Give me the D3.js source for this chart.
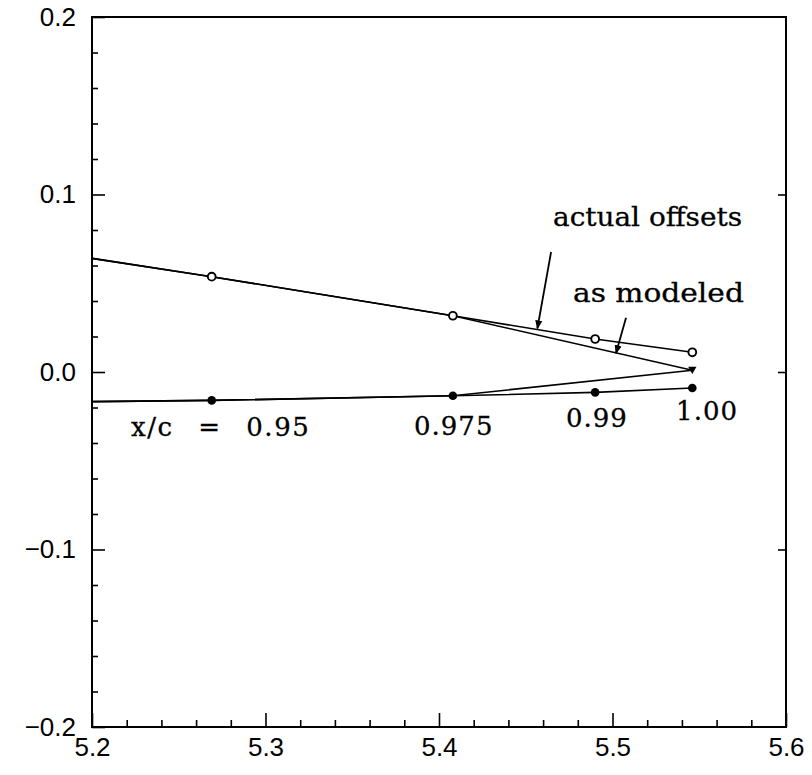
<!DOCTYPE html>
<html>
<head>
<meta charset="utf-8">
<script src="https://cdn.jsdelivr.net/npm/d3@7"></script>
<style>
  body { margin: 0; background: #fff; }
  svg text { fill: #000; }
</style>
</head>
<body>
<svg id="chart"></svg>
<script>
// x locations of the stations (x/c = 0.95, 0.975, 0.99, 1.00), first entry is the left edge
const stationX = [5.2, 5.269, 5.408, 5.490, 5.546];
const upperActual = [0.064, 0.0537, 0.0317, 0.0186, 0.0111];
const lowerActual = [-0.0167, -0.0160, -0.0134, -0.0115, -0.0090];

const modeledX = [5.2, 5.269, 5.408, 5.546];
const upperModeled = [0.064, 0.0537, 0.0317, 0.001];
const lowerModeled = [-0.0167, -0.0160, -0.0134, 0.001];

const stationLabels = ["x/c = 0.95", "0.975", "0.99", "1.00"];
const xTicks = [5.2, 5.3, 5.4, 5.5, 5.6];
const yTicks = [-0.2, -0.1, 0.0, 0.1, 0.2];

const width = 812, height = 775;
const margin = { top: 17, right: 26, bottom: 48, left: 92 };

const svg = d3.select("#chart")
    .attr("width", width)
    .attr("height", height);

const x = d3.scaleLinear().domain([5.2, 5.6]).range([margin.left, width - margin.right]);
const y = d3.scaleLinear().domain([-0.2, 0.2]).range([height - margin.bottom, margin.top]);

const minorX = d3.range(5.2, 5.6001, 0.02).map(v => +v.toFixed(2)).filter(v => !xTicks.includes(v));
const minorY = d3.range(-0.2, 0.2001, 0.02).map(v => +v.toFixed(2)).filter(v => !yTicks.includes(v));

const tickFont = "'Liberation Sans', Arial, sans-serif";
const noteFont = "'DejaVu Serif', serif";

// frame
svg.append("rect")
    .attr("x", x(5.2)).attr("y", y(0.2))
    .attr("width", x(5.6) - x(5.2)).attr("height", y(-0.2) - y(0.2))
    .attr("fill", "none").attr("stroke", "#000").attr("stroke-width", 2);

function styleAxis(g) {
    g.select(".domain").remove();
    g.selectAll("line").attr("stroke", "#000").attr("stroke-width", 1.6);
    g.selectAll("text").attr("font-family", tickFont).attr("font-size", 26).attr("fill", "#000");
}

// bottom axis
svg.append("g")
    .attr("transform", `translate(0,${y(-0.2)})`)
    .call(d3.axisBottom(x).tickValues(xTicks).tickSize(-14).tickPadding(11).tickFormat(d3.format(".1f")))
    .call(styleAxis);
svg.append("g")
    .attr("transform", `translate(0,${y(-0.2)})`)
    .call(d3.axisBottom(x).tickValues(minorX).tickSize(-7).tickFormat(""))
    .call(styleAxis);

// left axis
svg.append("g")
    .attr("transform", `translate(${x(5.2)},0)`)
    .call(d3.axisLeft(y).tickValues(yTicks).tickSize(-13).tickPadding(16).tickFormat(d3.format(".1f")))
    .call(styleAxis);
svg.append("g")
    .attr("transform", `translate(${x(5.2)},0)`)
    .call(d3.axisLeft(y).tickValues(minorY).tickSize(-6).tickFormat(""))
    .call(styleAxis);

// right axis, major ticks only
svg.append("g")
    .attr("transform", `translate(${x(5.6)},0)`)
    .call(d3.axisRight(y).tickValues([-0.1, 0.0, 0.1]).tickSize(-8).tickFormat(""))
    .call(styleAxis);

// lines
const line = d3.line().x(d => x(d[0])).y(d => y(d[1]));

const series = [
    d3.zip(stationX, upperActual),
    d3.zip(stationX, lowerActual),
    d3.zip(modeledX, upperModeled),
    d3.zip(modeledX, lowerModeled)
];

svg.selectAll(".curve")
    .data(series)
    .enter().append("path")
    .attr("class", "curve")
    .attr("d", line)
    .attr("fill", "none")
    .attr("stroke", "#000")
    .attr("stroke-width", 1.6);

// markers (skip the left-edge point)
svg.selectAll(".open")
    .data(d3.zip(stationX, upperActual).slice(1))
    .enter().append("circle")
    .attr("class", "open")
    .attr("cx", d => x(d[0])).attr("cy", d => y(d[1]))
    .attr("r", 3.9)
    .attr("fill", "#fff").attr("stroke", "#000").attr("stroke-width", 1.9);

svg.selectAll(".filled")
    .data(d3.zip(stationX, lowerActual).slice(1))
    .enter().append("circle")
    .attr("class", "filled")
    .attr("cx", d => x(d[0])).attr("cy", d => y(d[1]))
    .attr("r", 4.3)
    .attr("fill", "#000");

// trailing edge as modeled: small down-pointing triangle
const te = [modeledX[modeledX.length - 1], upperModeled[upperModeled.length - 1]];
svg.append("path")
    .attr("d", d3.symbol().type(d3.symbolTriangle).size(30))
    .attr("transform", `translate(${x(te[0])},${y(te[1]) - 1}) rotate(180)`)
    .attr("fill", "#000");

// station labels
const labelPos = [
    { x: 5.2225, y: -0.0360, anchor: "start", ls: 1.5, ws: 15 },
    { x: 5.4085, y: -0.0355, anchor: "middle", ls: 1, ws: 0 },
    { x: 5.4910, y: -0.0310, anchor: "middle", ls: 1, ws: 0 },
    { x: 5.5545, y: -0.0272, anchor: "middle", ls: 1, ws: 0 }
];
svg.selectAll(".station")
    .data(stationLabels)
    .enter().append("text")
    .attr("class", "station")
    .attr("x", (d, i) => x(labelPos[i].x))
    .attr("y", (d, i) => y(labelPos[i].y))
    .attr("text-anchor", (d, i) => labelPos[i].anchor)
    .style("letter-spacing", (d, i) => labelPos[i].ls + "px")
    .style("word-spacing", (d, i) => labelPos[i].ws + "px")
    .attr("font-family", noteFont)
    .attr("font-size", 26)
    .attr("stroke", "#000").attr("stroke-width", 0.3)
    .text(d => d);

// annotations with arrows
svg.append("defs").append("marker")
    .attr("id", "head")
    .attr("viewBox", "0 0 10 10")
    .attr("refX", 9).attr("refY", 5)
    .attr("markerWidth", 9).attr("markerHeight", 9)
    .attr("markerUnits", "userSpaceOnUse")
    .attr("orient", "auto")
    .append("path")
    .attr("d", "M0,1 L10,5 L0,9 Z")
    .attr("fill", "#000");

svg.append("text")
    .attr("x", x(5.4657)).attr("y", y(0.0823))
    .attr("textLength", 189).attr("lengthAdjust", "spacingAndGlyphs")
    .attr("font-family", noteFont).attr("font-size", 26)
    .attr("stroke", "#000").attr("stroke-width", 0.3)
    .text("actual offsets");
svg.append("line")
    .attr("x1", x(5.4646)).attr("y1", y(0.0676))
    .attr("x2", x(5.4567)).attr("y2", y(0.0245))
    .attr("stroke", "#000").attr("stroke-width", 1.8)
    .attr("marker-end", "url(#head)");

svg.append("text")
    .attr("x", x(5.4772)).attr("y", y(0.0395))
    .attr("textLength", 171).attr("lengthAdjust", "spacingAndGlyphs")
    .attr("font-family", noteFont).attr("font-size", 26)
    .attr("stroke", "#000").attr("stroke-width", 0.3)
    .text("as modeled");
svg.append("line")
    .attr("x1", x(5.5078)).attr("y1", y(0.0305))
    .attr("x2", x(5.5020)).attr("y2", y(0.0105))
    .attr("stroke", "#000").attr("stroke-width", 1.8)
    .attr("marker-end", "url(#head)");
</script>
</body>
</html>
